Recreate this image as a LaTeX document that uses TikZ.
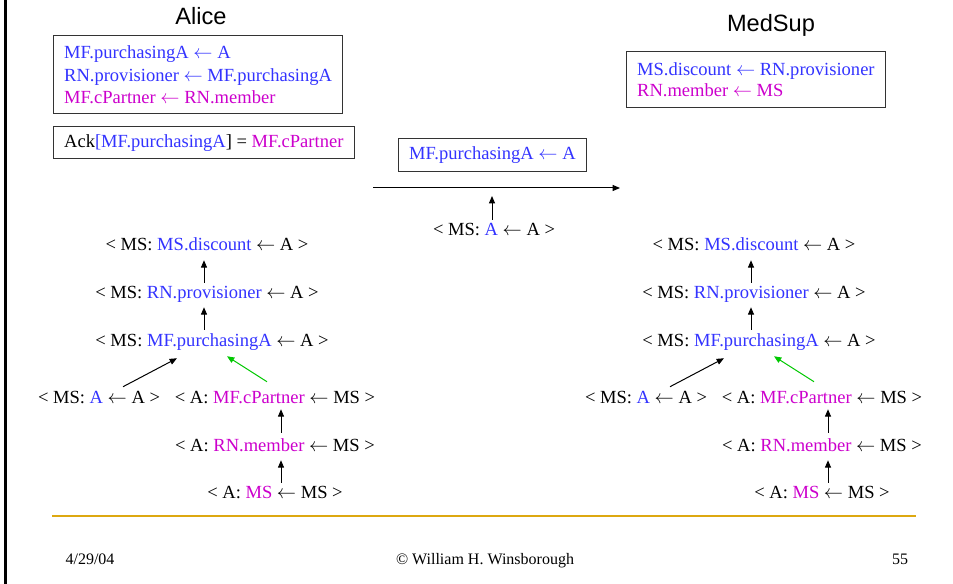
\documentclass[tikz,border=0pt]{standalone}
\usepackage{fontspec}
\setmainfont{Liberation Serif}
\newfontfamily\titlefont{Liberation Sans}
\usetikzlibrary{arrows.meta,calc}
\definecolor{roleblue}{RGB}{51,51,255}
\definecolor{rolemag}{RGB}{204,0,204}
\definecolor{ackgreen}{RGB}{0,200,0}
\definecolor{rulegold}{RGB}{221,168,16}
\newcommand{\bl}[1]{\textcolor{roleblue}{#1}}
\newcommand{\mg}[1]{\textcolor{rolemag}{#1}}
\newcommand{\la}{$\leftarrow$}
\tikzset{
  x=0.75pt, y=-0.75pt,
  txt/.style={font=\fontsize{13.9}{16.9}\selectfont, inner sep=0pt},
  cred/.style={txt, text height=9.3pt, text depth=3pt, anchor=base},
  rulebox/.style={draw=black!80, line width=0.75pt, txt, inner xsep=8pt, inner ysep=0pt, align=left, anchor=west},
  partytitle/.style={font=\titlefont\fontsize{17.7}{20}\selectfont, anchor=base, inner sep=0pt},
  link/.style={-{Triangle[length=5.5pt,width=4.5pt]}, line width=0.75pt},
  foot/.style={font=\fontsize{12}{14}\selectfont, anchor=base, inner sep=0pt},
}
\begin{document}
\begin{tikzpicture}
\useasboundingbox (0,0) rectangle (953,584);
% slide frame edge
\draw[line width=2.25pt] (5.5,0) -- (5.5,584);

% party titles
\node[partytitle] (alice) at (201,25) {Alice};
\node[partytitle] (medsup) at (771,32) {MedSup};

% credential boxes
\node[rulebox, minimum height=58.5pt] (alicerules) at (53,75)
  {\bl{MF.purchasingA \la{} A}\\
   \bl{RN.provisioner \la{} MF.purchasingA}\\
   \mg{MF.cPartner \la{} RN.member}};
\node[rulebox, minimum height=24pt] (ack) at (53,143)
  {Ack\bl{[MF.purchasingA}] = \mg{MF.cPartner}};
\node[rulebox, minimum height=42pt, font=\fontsize{13.9}{16}\selectfont] (msrules) at (626,80)
  {\bl{MS.discount \la{} RN.provisioner}\\
   \mg{RN.member \la{} MS}};
\node[rulebox, minimum height=24.75pt] (sent) at (398,155.5)
  {\bl{MF.purchasingA \la{} A}};

% disclosure message
\coordinate (sendL) at (373,188);
\coordinate (sendR) at (620,188);
\coordinate (hit) at (492,196);
\draw[link] (sendL) -- (sendR);
\node[cred] (mid) at (494,236) {< MS: \bl{A} \la{} A >};
\draw[link] ($(mid.north)+(-2,-3.6)$) -- (hit);

% proof graphs, one per party
\foreach \o/\s in {0/L,547/R} {
  \node[cred] (d\s) at (207+\o,251) {< MS: \bl{MS.discount} \la{} A >};
  \node[cred] (p\s) at (207+\o,299) {< MS: \bl{RN.provisioner} \la{} A >};
  \node[cred] (f\s) at (212+\o,347) {< MS: \bl{MF.purchasingA} \la{} A >};
  \node[cred] (a\s) at (99+\o,403) {< MS: \bl{A} \la{} A >};
  \node[cred] (c\s) at (275+\o,403) {< A: \mg{MF.cPartner} \la{} MS >};
  \node[cred] (m\s) at (275+\o,451) {< A: \mg{RN.member} \la{} MS >};
  \node[cred] (s\s) at (275+\o,498) {< A: \mg{MS} \la{} MS >};

  \draw[link] ($(p\s.north)+(-3,-3.6)$) -- ($(d\s.south)+(-3,5)$);
  \draw[link] ($(f\s.north)+(-8,-4.6)$) -- ($(p\s.south)+(-3,4)$);
  \draw[link] ($(a\s.north)+(24,-3.6)$) -- ($(f\s.south)+(-35,7)$);
  \draw[link, ackgreen] ($(c\s.north)+(-8,-8.6)$) -- ($(f\s.south)+(15,5)$);
  \draw[link] ($(m\s.north)+(6,-5.6)$) -- ($(c\s.south)+(6,2)$);
  \draw[link] ($(s\s.north)+(6,-2.6)$) -- ($(m\s.south)+(6,5)$);
}

% footer
\draw[rulegold, line width=1.5pt] (52,516) -- (916,516);
\node[foot] (date) at (90,564) {4/29/04};
\node[foot] (author) at (485,564) {© William H. Winsborough};
\node[foot] (page) at (900,564) {55};
\end{tikzpicture}
\end{document}
